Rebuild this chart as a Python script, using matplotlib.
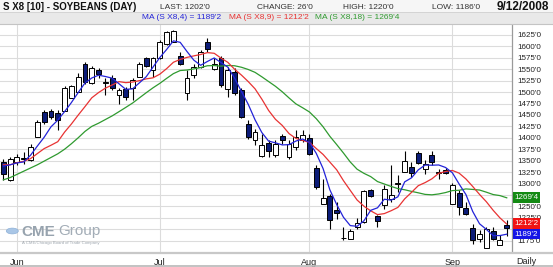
import matplotlib
matplotlib.use("Agg")
import matplotlib.pyplot as plt
import numpy as np
import pandas as pd
from matplotlib.patches import Rectangle, Circle
from matplotlib.lines import Line2D
from matplotlib.ticker import FuncFormatter

plt.rcParams['font.family'] = ['Liberation Sans', 'DejaVu Sans']

# ---------------- data ----------------
holidays = ['2008-07-04', '2008-09-01']
dates = pd.bdate_range('2008-05-29', '2008-09-12')
dates = dates[~dates.isin(pd.to_datetime(holidays))]

opens = [1347.2, 1307, 1347, 1353, 1351, 1402, 1455.4, 1459, 1455, 1458,
         1487.5, 1500.7, 1560.6, 1519, 1548, 1521, 1530, 1493.4, 1506.5, 1508,
         1533.6, 1573.8, 1548.2, 1573.8, 1604.5, 1610.4, 1579.6, 1497, 1537.3, 1555.5,
         1610.4, 1550.4, 1575.3, 1506.5, 1544.6, 1504.4, 1431.3, 1394.7, 1360.3, 1389.6,
         1361.8, 1404.2, 1358, 1380, 1394.7, 1400.5, 1334, 1255.8, 1272.6, 1241,
         1181.4, 1179, 1204.6, 1215.6, 1285, 1228, 1252.2, 1266.8, 1299.7, 1325.3,
         1336.2, 1366.9, 1331.1, 1361.8, 1324, 1330.4, 1255.8, 1280, 1246.3, 1202.5,
         1179.1, 1158.6, 1195.1, 1165.6, 1209.8]
highs = [1354.5, 1358, 1365.5, 1369, 1387.4, 1438.6, 1460.5, 1462.7, 1460.5, 1513.9,
         1515.3, 1541, 1565, 1557.7, 1552, 1530, 1537.3, 1508, 1511.7, 1530,
         1566.5, 1577.5, 1577.5, 1614, 1633.7, 1636.7, 1588.4, 1548.2, 1560.6, 1592,
         1617.7, 1573.8, 1579.6, 1555.5, 1552, 1508, 1438.6, 1420, 1409.3, 1394.7,
         1394.7, 1409.3, 1394.7, 1416.6, 1416.6, 1409.3, 1339.9, 1310.6, 1277.8, 1259.5,
         1204.6, 1199.5, 1224.4, 1285, 1288.7, 1230.2, 1296, 1341.3, 1318, 1370.6,
         1347.2, 1370.6, 1350.8, 1370.6, 1332.6, 1334, 1301.9, 1285, 1259.5, 1212,
         1197.3, 1204.6, 1204.6, 1186.4, 1220]
lows = [1307, 1305.5, 1340, 1343.5, 1350, 1402, 1431, 1442, 1416.6, 1458,
        1487, 1500, 1516.8, 1516.8, 1530, 1493.4, 1504.4, 1475, 1482.5, 1482.5,
        1533, 1555.5, 1533.6, 1573, 1604, 1610, 1559, 1482.5, 1530, 1553.3,
        1588.4, 1548.2, 1511.7, 1489.7, 1493.4, 1443.7, 1398.4, 1383.7, 1358, 1358,
        1358, 1387.4, 1354.5, 1372.8, 1391, 1361.8, 1288.7, 1255.8, 1201, 1222.9,
        1175.4, 1179, 1201, 1214, 1270.5, 1204.6, 1244.9, 1259.5, 1281.4, 1325.3,
        1314.3, 1343.5, 1321.6, 1339.9, 1309.2, 1321.6, 1254.4, 1231.7, 1231.7, 1168.1,
        1171.8, 1158.6, 1175.4, 1165.6, 1186]
closes = [1321.6, 1354.5, 1358, 1355, 1380, 1435, 1434.9, 1446, 1438.6, 1509.5,
          1514, 1533.6, 1522.6, 1553.3, 1538.7, 1522, 1508, 1504.4, 1489.7, 1526.3,
          1560.6, 1557.7, 1573.8, 1610.4, 1630.8, 1633.7, 1560.6, 1530, 1555.5, 1588.4,
          1594.3, 1560.6, 1515.3, 1548.2, 1497, 1445.9, 1402, 1413, 1385.2, 1370.6,
          1387.4, 1394.7, 1387.4, 1402, 1405.7, 1364, 1292.4, 1269, 1219.3, 1236,
          1180.4, 1196, 1213.4, 1283.6, 1272.6, 1217.8, 1288.7, 1275.6, 1301.8, 1348.6,
          1323.8, 1345.7, 1343.5, 1347.2, 1326, 1323.8, 1297.5, 1248.5, 1233.9, 1175.4,
          1190, 1199.5, 1179.1, 1176, 1202]

# moving-average values visible before enough closes exist
ma4_early = [1338, 1341, 1345]
ma9_early = [1341, 1341, 1345.7, 1348.6, 1354.5, 1365.5, 1376.4, 1383.7]
ma18_early = [1308, 1313, 1320, 1327, 1334, 1341, 1349, 1357, 1365, 1375,
              1387, 1400, 1414, 1425, 1432, 1440, 1448]
ma_last = [1189.25, 1212.25, 1269.5]   # MA 4, 9, 18 current values

price_ticks = list(range(1175, 1626, 25))
hidden_ticks = [1200, 1275]            # covered by the MA value boxes
month_labels = ['Jun', 'Jul', 'Aug', 'Sep']

header_title = 'S X8 [10] - SOYBEANS (DAY)'
header_last = "LAST: 1202'0"
header_change = "CHANGE: 26'0"
header_high = "HIGH: 1220'0"
header_low = "LOW: 1186'0"
header_date = '9/12/2008'


def eighths(v):
    w = int(np.floor(v + 1e-9))
    return f"{w}'{int(round((v - w) * 8))}"


# ---------------- figure ----------------
W, H = 553, 267
fig = plt.figure(figsize=(W / 100, H / 100), dpi=100)
fig.patch.set_facecolor('white')


def fx(x):
    return x / W


def fy(y):
    return 1 - y / H


# header bands
fig.patches.append(Rectangle((0, fy(11.5)), 1, 1 - fy(11.5), transform=fig.transFigure,
                             fc='#f6f6f6', ec='none', zorder=0))
fig.patches.append(Rectangle((0, fy(23.5)), 1, fy(11.5) - fy(23.5), transform=fig.transFigure,
                             fc='#e9e9e9', ec='none', zorder=0))
fig.lines.append(Line2D([0, 1], [fy(11.5), fy(11.5)], transform=fig.transFigure,
                        color='#d0d0d0', lw=0.6))
fig.lines.append(Line2D([0, 1], [fy(23.8), fy(23.8)], transform=fig.transFigure,
                        color='#c4c4c4', lw=0.8))
# bottom separators
fig.lines.append(Line2D([0, 1], [fy(252.8), fy(252.8)], transform=fig.transFigure,
                        color='#c8c8c8', lw=1.6))
fig.lines.append(Line2D([0, 1], [fy(265.5), fy(265.5)], transform=fig.transFigure,
                        color='#b8b8b8', lw=1.2))

fig.text(fx(3), fy(7), header_title, fontsize=7.0, weight='bold', color='#111111', va='center')
fig.text(fx(160), fy(7.5), header_last, fontsize=6.0, color='#333333', va='center')
fig.text(fx(257), fy(7.5), header_change, fontsize=6.0, color='#333333', va='center')
fig.text(fx(343), fy(7.5), header_high, fontsize=6.0, color='#333333', va='center')
fig.text(fx(432), fy(7.5), header_low, fontsize=6.0, color='#333333', va='center')
fig.text(fx(549), fy(7), header_date, fontsize=8.5, weight='bold', color='#111111',
         va='center', ha='right')

ma_cols = ['#2323d8', '#e83333', '#2f9a2f']
ma_periods = [4, 9, 18]
ma_x = [142, 229, 315]
for p, v, col, xx in zip(ma_periods, ma_last, ma_cols, ma_x):
    fig.text(fx(xx), fy(17.3), f'MA (S X8,{p}) = {eighths(v)}', fontsize=6.0,
             color=col, va='center')

# ---------------- axes ----------------
ax = fig.add_axes([0, fy(252), fx(511.5), (252 - 24) / H])
n = len(closes)
x = np.arange(n)
ax.set_xlim(-0.49, n - 1 + 0.7)
ax.set_ylim(1150.2, 1649)

month_idx = [int(np.argmax(dates.month == m)) for m in [6, 7, 8, 9]]
ax.set_xticks(month_idx)
ax.set_xticklabels(month_labels)
ax.set_yticks(price_ticks)
ax.yaxis.tick_right()
ax.yaxis.set_major_formatter(
    FuncFormatter(lambda v, pos: '' if int(v) in hidden_ticks else f"{int(v)}'0"))
ax.tick_params(axis='y', length=0, pad=4, labelsize=5.8, labelcolor='#222222')
ax.tick_params(axis='x', length=0, pad=4.5, labelsize=6.5, labelcolor='#222222')
ax.grid(True, color='#dcdcdc', lw=0.8)
ax.set_axisbelow(True)
for s in ['top', 'left', 'bottom']:
    ax.spines[s].set_visible(False)
ax.spines['right'].set_color('#9a9a9a')
ax.spines['right'].set_linewidth(0.9)

# CME Group logo (behind the price marks)
fig.patches.append(Circle((fx(12.3), fy(231)), 6.0 / W, transform=fig.transFigure,
                          fc='#a9c6e6', ec='#8fb1d8', lw=0.5, zorder=3))
fig.text(fx(21), fy(231.5), 'CME', fontsize=11, weight='bold', color='#97a3ae',
         va='center')
fig.text(fx(58.5), fy(231.5), 'Group', fontsize=11, color='#a3adb7', va='center')
fig.text(fx(22), fy(243), 'A CME/Chicago Board of Trade Company', fontsize=3.1,
         color='#a0a8b0', va='center')

# candles
o = np.array(opens)
c = np.array(closes)
h = np.array(highs)
l = np.array(lows)
up = c >= o
bb = np.minimum(o, c)
bh = np.maximum(np.abs(c - o), 0.8)
ax.vlines(x, l, h, color='black', lw=0.8, zorder=3)
ax.bar(x[up], bh[up], bottom=bb[up], width=0.72, color='white', edgecolor='black',
       lw=0.7, zorder=4)
ax.bar(x[~up], bh[~up], bottom=bb[~up], width=0.72, color='#0c1c78', edgecolor='black',
       lw=0.7, zorder=4)

# moving averages
cs = pd.Series(closes)
ma_lines = []
for p, early in zip(ma_periods, [ma4_early, ma9_early, ma18_early]):
    m = cs.rolling(p).mean().to_numpy()
    m[:p - 1] = early
    ma_lines.append(m)
for m, col in zip(ma_lines[::-1], ma_cols[::-1]):
    ax.plot(x, m, color=col, lw=0.9, zorder=5)

# MA value boxes on right axis
box_cols = ['#1414e6', '#f01414', '#138a13']
for v, col in zip(ma_last, box_cols):
    ax.annotate(eighths(v), xy=(1.0, v), xycoords=('axes fraction', 'data'),
                xytext=(2.2, 0), textcoords='offset points', ha='left', va='center',
                fontsize=5.8, color='white',
                bbox=dict(boxstyle='square,pad=0.22', fc=col, ec='none'),
                annotation_clip=False, zorder=10)

fig.text(fx(516), fy(261), 'Daily', fontsize=6.5, color='#222222', va='center')

fig.savefig('out.png', dpi=100, facecolor='white')
